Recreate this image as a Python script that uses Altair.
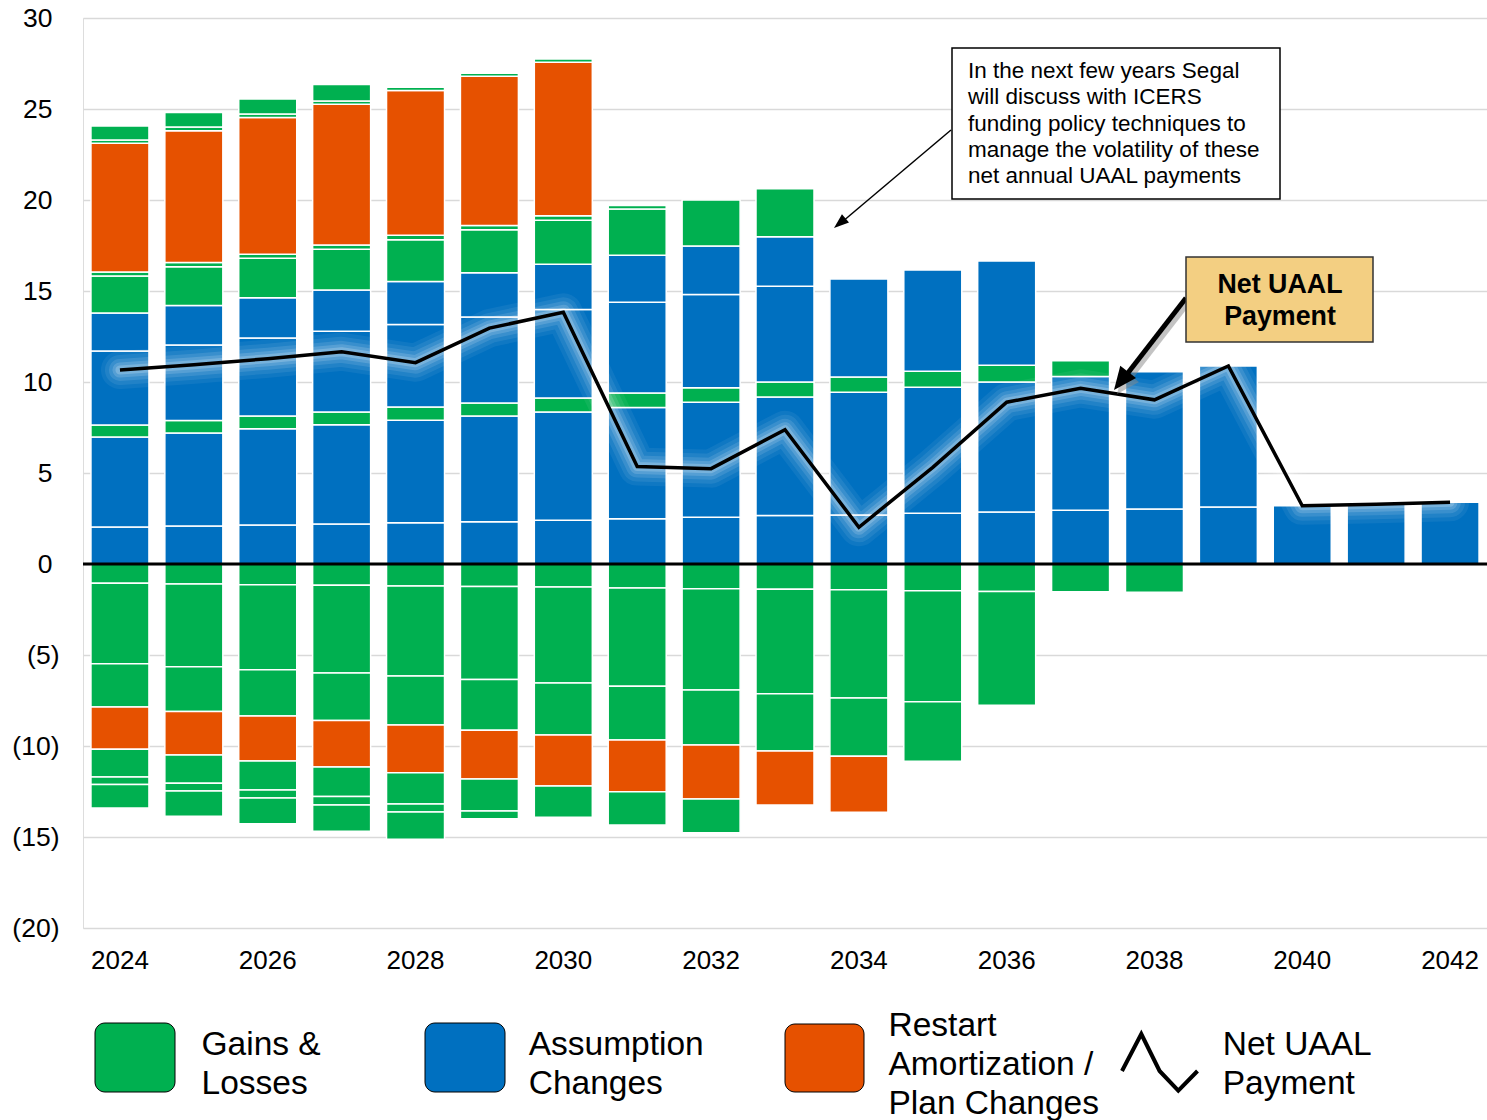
import altair as alt
import pandas as pd

YEARS = list(range(2024, 2043))
TICK_YEARS = [2024, 2026, 2028, 2030, 2032, 2034, 2036, 2038, 2040, 2042]
Y_TICKS = [-20, -15, -10, -5, 0, 5, 10, 15, 20, 25, 30]

CATS = ["Gains & Losses", "Assumption Changes", "Restart Amortization / Plan Changes"]
COLORS = ["#00b050", "#0070c0", "#e65100"]

# Positive amortization layers, bottom to top, values from 2024 onward
POS_A_ASSUMP = [2.03, 2.09, 2.14, 2.20, 2.27, 2.32, 2.40, 2.48, 2.57, 2.66, 2.69, 2.79, 2.86, 2.95, 3.02, 3.13, 3.20, 3.28, 3.39]
POS_B_ASSUMP = [4.95, 5.11, 5.29, 5.45, 5.63, 5.81, 5.95, 6.12, 6.32, 6.51, 6.74, 6.92, 7.14, 7.35, 7.55, 7.75]
POS_C_GAIN = [0.66, 0.68, 0.70, 0.70, 0.72, 0.72, 0.77, 0.80, 0.80, 0.83, 0.84, 0.88, 0.92, 0.87]
POS_D_ASSUMP = [4.06, 4.15, 4.29, 4.44, 4.54, 4.72, 4.86, 4.98, 5.12, 5.26, 5.39, 5.56, 5.73]
POS_E_ASSUMP = [2.09, 2.17, 2.21, 2.27, 2.36, 2.43, 2.49, 2.59, 2.66, 2.72]
POS_F_GAIN = [2.03, 2.13, 2.17, 2.24, 2.30, 2.37, 2.42, 2.53, 2.53, 2.64]
POS_G_GAIN = [0.22, 0.23, 0.22, 0.23, 0.24, 0.23, 0.25, 0.20]
POS_H_RESTART = [7.08, 7.25, 7.51, 7.73, 7.95, 8.20, 8.43]
POS_I_GAIN = [0.18, 0.20, 0.20, 0.18, 0.18, 0.16, 0.18]
POS_J_GAIN = [0.77, 0.80, 0.82, 0.91]

# Negative (credit) layers, from zero downward, values from 2024 onward
NEG_1_GAIN = [1.06, 1.10, 1.14, 1.17, 1.21, 1.23, 1.26, 1.32, 1.36, 1.39, 1.42, 1.47, 1.51, 1.52, 1.55]
NEG_2_GAIN = [4.42, 4.55, 4.67, 4.82, 4.94, 5.11, 5.28, 5.40, 5.56, 5.74, 5.94, 6.10, 6.25]
NEG_3_GAIN = [2.38, 2.46, 2.54, 2.61, 2.69, 2.79, 2.86, 2.95, 3.03, 3.14, 3.21, 3.27]
NEG_4_PLAN = [2.32, 2.38, 2.47, 2.55, 2.63, 2.68, 2.80, 2.85, 2.96, 2.97, 3.07]
NEG_5_GAIN = [1.52, 1.56, 1.60, 1.62, 1.72, 1.76, 1.72, 1.82, 1.85]
NEG_6_GAIN = [0.42, 0.42, 0.44, 0.47, 0.44, 0.43]
NEG_7_GAIN = [1.29, 1.39, 1.41, 1.45, 1.50]

LAYERS = [
    ("A", CATS[1], POS_A_ASSUMP, 1), ("B", CATS[1], POS_B_ASSUMP, 1),
    ("C", CATS[0], POS_C_GAIN, 1), ("D", CATS[1], POS_D_ASSUMP, 1),
    ("E", CATS[1], POS_E_ASSUMP, 1), ("F", CATS[0], POS_F_GAIN, 1),
    ("G", CATS[0], POS_G_GAIN, 1), ("H", CATS[2], POS_H_RESTART, 1),
    ("I", CATS[0], POS_I_GAIN, 1), ("J", CATS[0], POS_J_GAIN, 1),
    ("N1", CATS[0], NEG_1_GAIN, -1), ("N2", CATS[0], NEG_2_GAIN, -1),
    ("N3", CATS[0], NEG_3_GAIN, -1), ("N4", CATS[2], NEG_4_PLAN, -1),
    ("N5", CATS[0], NEG_5_GAIN, -1), ("N6", CATS[0], NEG_6_GAIN, -1),
    ("N7", CATS[0], NEG_7_GAIN, -1),
]

rows = []
for k, (name, cat, vals, sign) in enumerate(LAYERS):
    for i, v in enumerate(vals):
        rows.append({"year": YEARS[i], "layer": name, "cat": cat,
                     "value": sign * v, "order": k})
bars_df = pd.DataFrame(rows)
net_df = bars_df.groupby("year", as_index=False)["value"].sum().rename(columns={"value": "net"})

FONT = "Liberation Sans"
ONE = alt.Data(values=[{"k": 0}])

x_enc = alt.X("year:O", scale=alt.Scale(paddingInner=0.215, paddingOuter=0.1075),
              axis=alt.Axis(values=TICK_YEARS, labelAngle=0, ticks=False, domain=False,
                            title=None, labelFontSize=26, labelPadding=19, grid=False,
                            labelColor="black", labelFont=FONT))

y_scale = alt.Scale(domain=[-20, 30], nice=False)

bars = alt.Chart(bars_df).mark_bar(stroke="white", strokeWidth=1.5).encode(
    x=x_enc,
    y=alt.Y("value:Q", stack="zero", scale=y_scale,
            axis=alt.Axis(values=Y_TICKS, title=None, ticks=False, domain=False,
                          labelFontSize=26.5, labelColor="black",
                          labelPadding={"condition": {"test": "datum.value >= 0", "value": 31}, "value": 24},
                          labelFont=FONT, gridColor="#d9d9d9", gridWidth=1.5,
                          labelExpr="datum.value < 0 ? '(' + format(-datum.value, 'd') + ')' : format(datum.value, 'd')")),
    color=alt.Color("cat:N", scale=alt.Scale(domain=CATS, range=COLORS), legend=None),
    order=alt.Order("order:Q", sort="ascending"),
)

zero_rule = alt.Chart(alt.Data(values=[{"z": 0}])).mark_rule(color="black", strokeWidth=3).encode(
    y=alt.Y("z:Q", scale=y_scale))

glows = []
for w, o in [(38, 0.06), (30, 0.08), (22, 0.11), (15, 0.15), (9, 0.2)]:
    glows.append(alt.Chart(net_df).mark_line(color="white", strokeWidth=w, opacity=o,
                                             strokeCap="round", strokeJoin="round").encode(
        x="year:O", y=alt.Y("net:Q", scale=y_scale)))

net_line = alt.Chart(net_df).mark_line(color="black", strokeWidth=3.5, strokeJoin="miter").encode(
    x="year:O", y=alt.Y("net:Q", scale=y_scale))

# Annotation 1
box1 = alt.Chart(ONE).mark_rect(fill="white", stroke="black", strokeWidth=1.5).encode(
    x=alt.value(869), x2=alt.value(1197), y=alt.value(30), y2=alt.value(181))
txt1 = alt.Chart(ONE).mark_text(
    text=["In the next few years Segal", "will discuss with ICERS",
          "funding policy techniques to", "manage the volatility of these",
          "net annual UAAL payments"],
    align="left", baseline="alphabetic", fontSize=22.5, lineHeight=26.2, font=FONT,
    color="black").encode(x=alt.value(885), y=alt.value(60.3))
arrow1 = alt.Chart(ONE).mark_rule(color="black", strokeWidth=1.5).encode(
    x=alt.value(868), y=alt.value(112), x2=alt.value(759), y2=alt.value(204))
head1 = alt.Chart(ONE).mark_point(shape="M0,0L-0.55,1.5L0.55,1.5Z", size=400, filled=True,
                                  color="black", opacity=1, angle=230).encode(
    x=alt.value(751), y=alt.value(210))

# Annotation 2
arrow2_shadow = alt.Chart(ONE).mark_rule(color="#888888", strokeWidth=5, opacity=0.5).encode(
    x=alt.value(1106), y=alt.value(284), x2=alt.value(1044), y2=alt.value(364))
head2_shadow = alt.Chart(ONE).mark_point(shape="M0,0L-1,2.3L1,2.3Z", size=400, filled=True,
                                         color="#888888", opacity=0.5, angle=218).encode(
    x=alt.value(1034), y=alt.value(376))
arrow2 = alt.Chart(ONE).mark_rule(color="black", strokeWidth=5).encode(
    x=alt.value(1103), y=alt.value(280), x2=alt.value(1041), y2=alt.value(360))
head2 = alt.Chart(ONE).mark_point(shape="M0,0L-1,2.3L1,2.3Z", size=400, filled=True,
                                  color="black", opacity=1, angle=218).encode(
    x=alt.value(1031), y=alt.value(372))
box2 = alt.Chart(ONE).mark_rect(fill="#f3cf82", stroke="#333333", strokeWidth=1.5).encode(
    x=alt.value(1103), x2=alt.value(1290), y=alt.value(239), y2=alt.value(324))
txt2 = alt.Chart(ONE).mark_text(
    text=["Net UAAL", "Payment"], align="center", baseline="alphabetic", fontSize=26.8,
    fontWeight="bold", lineHeight=31.7, font=FONT, color="black").encode(
    x=alt.value(1197), y=alt.value(275.3))

# Legend
LEG_TEXTS = [["Gains &", "Losses"], ["Assumption", "Changes"],
             ["Restart", "Amortization /", "Plan Changes"], ["Net UAAL", "Payment"]]
legend_layers = []
for (x0, x1, y0, y1), col in zip([(12, 92, 1005, 1074), (342, 422, 1005, 1074), (702, 781, 1006, 1074)], COLORS):
    legend_layers.append(alt.Chart(ONE).mark_rect(fill=col, stroke="black", strokeWidth=1,
                                                   cornerRadius=10).encode(
        x=alt.value(x0), x2=alt.value(x1), y=alt.value(y0), y2=alt.value(y1)))
for (tx, ty), lines in zip([(118.5, 1037), (445.7, 1037), (805.5, 1018), (1139.7, 1037)], LEG_TEXTS):
    legend_layers.append(alt.Chart(ONE).mark_text(
        text=lines, align="left", baseline="alphabetic", fontSize=33.5, lineHeight=39,
        font=FONT, color="black").encode(x=alt.value(tx), y=alt.value(ty)))
legend_layers.append(alt.Chart(ONE).mark_point(
    shape="M-1.9,0.45L-0.935,-1.4L-0.02,0.45L0.915,1.435L1.875,0.45",
    size=1600, filled=False, stroke="black", strokeWidth=4, opacity=1,
    strokeJoin="miter").encode(x=alt.value(1077), y=alt.value(1044)))

chart = alt.layer(
    bars, zero_rule, *glows, net_line,
    box1, txt1, arrow1, head1,
    arrow2_shadow, head2_shadow, arrow2, head2, box2, txt2,
    *legend_layers,
).properties(
    width=1404, height=910,
    autosize=alt.AutoSizeParams(type="none"),
    padding={"left": 83, "top": 18, "right": 0, "bottom": 192},
    background="white",
).configure_view(stroke=None).configure(font=FONT)

chart.save("out.html", embed_options={"renderer": "svg", "actions": False})
